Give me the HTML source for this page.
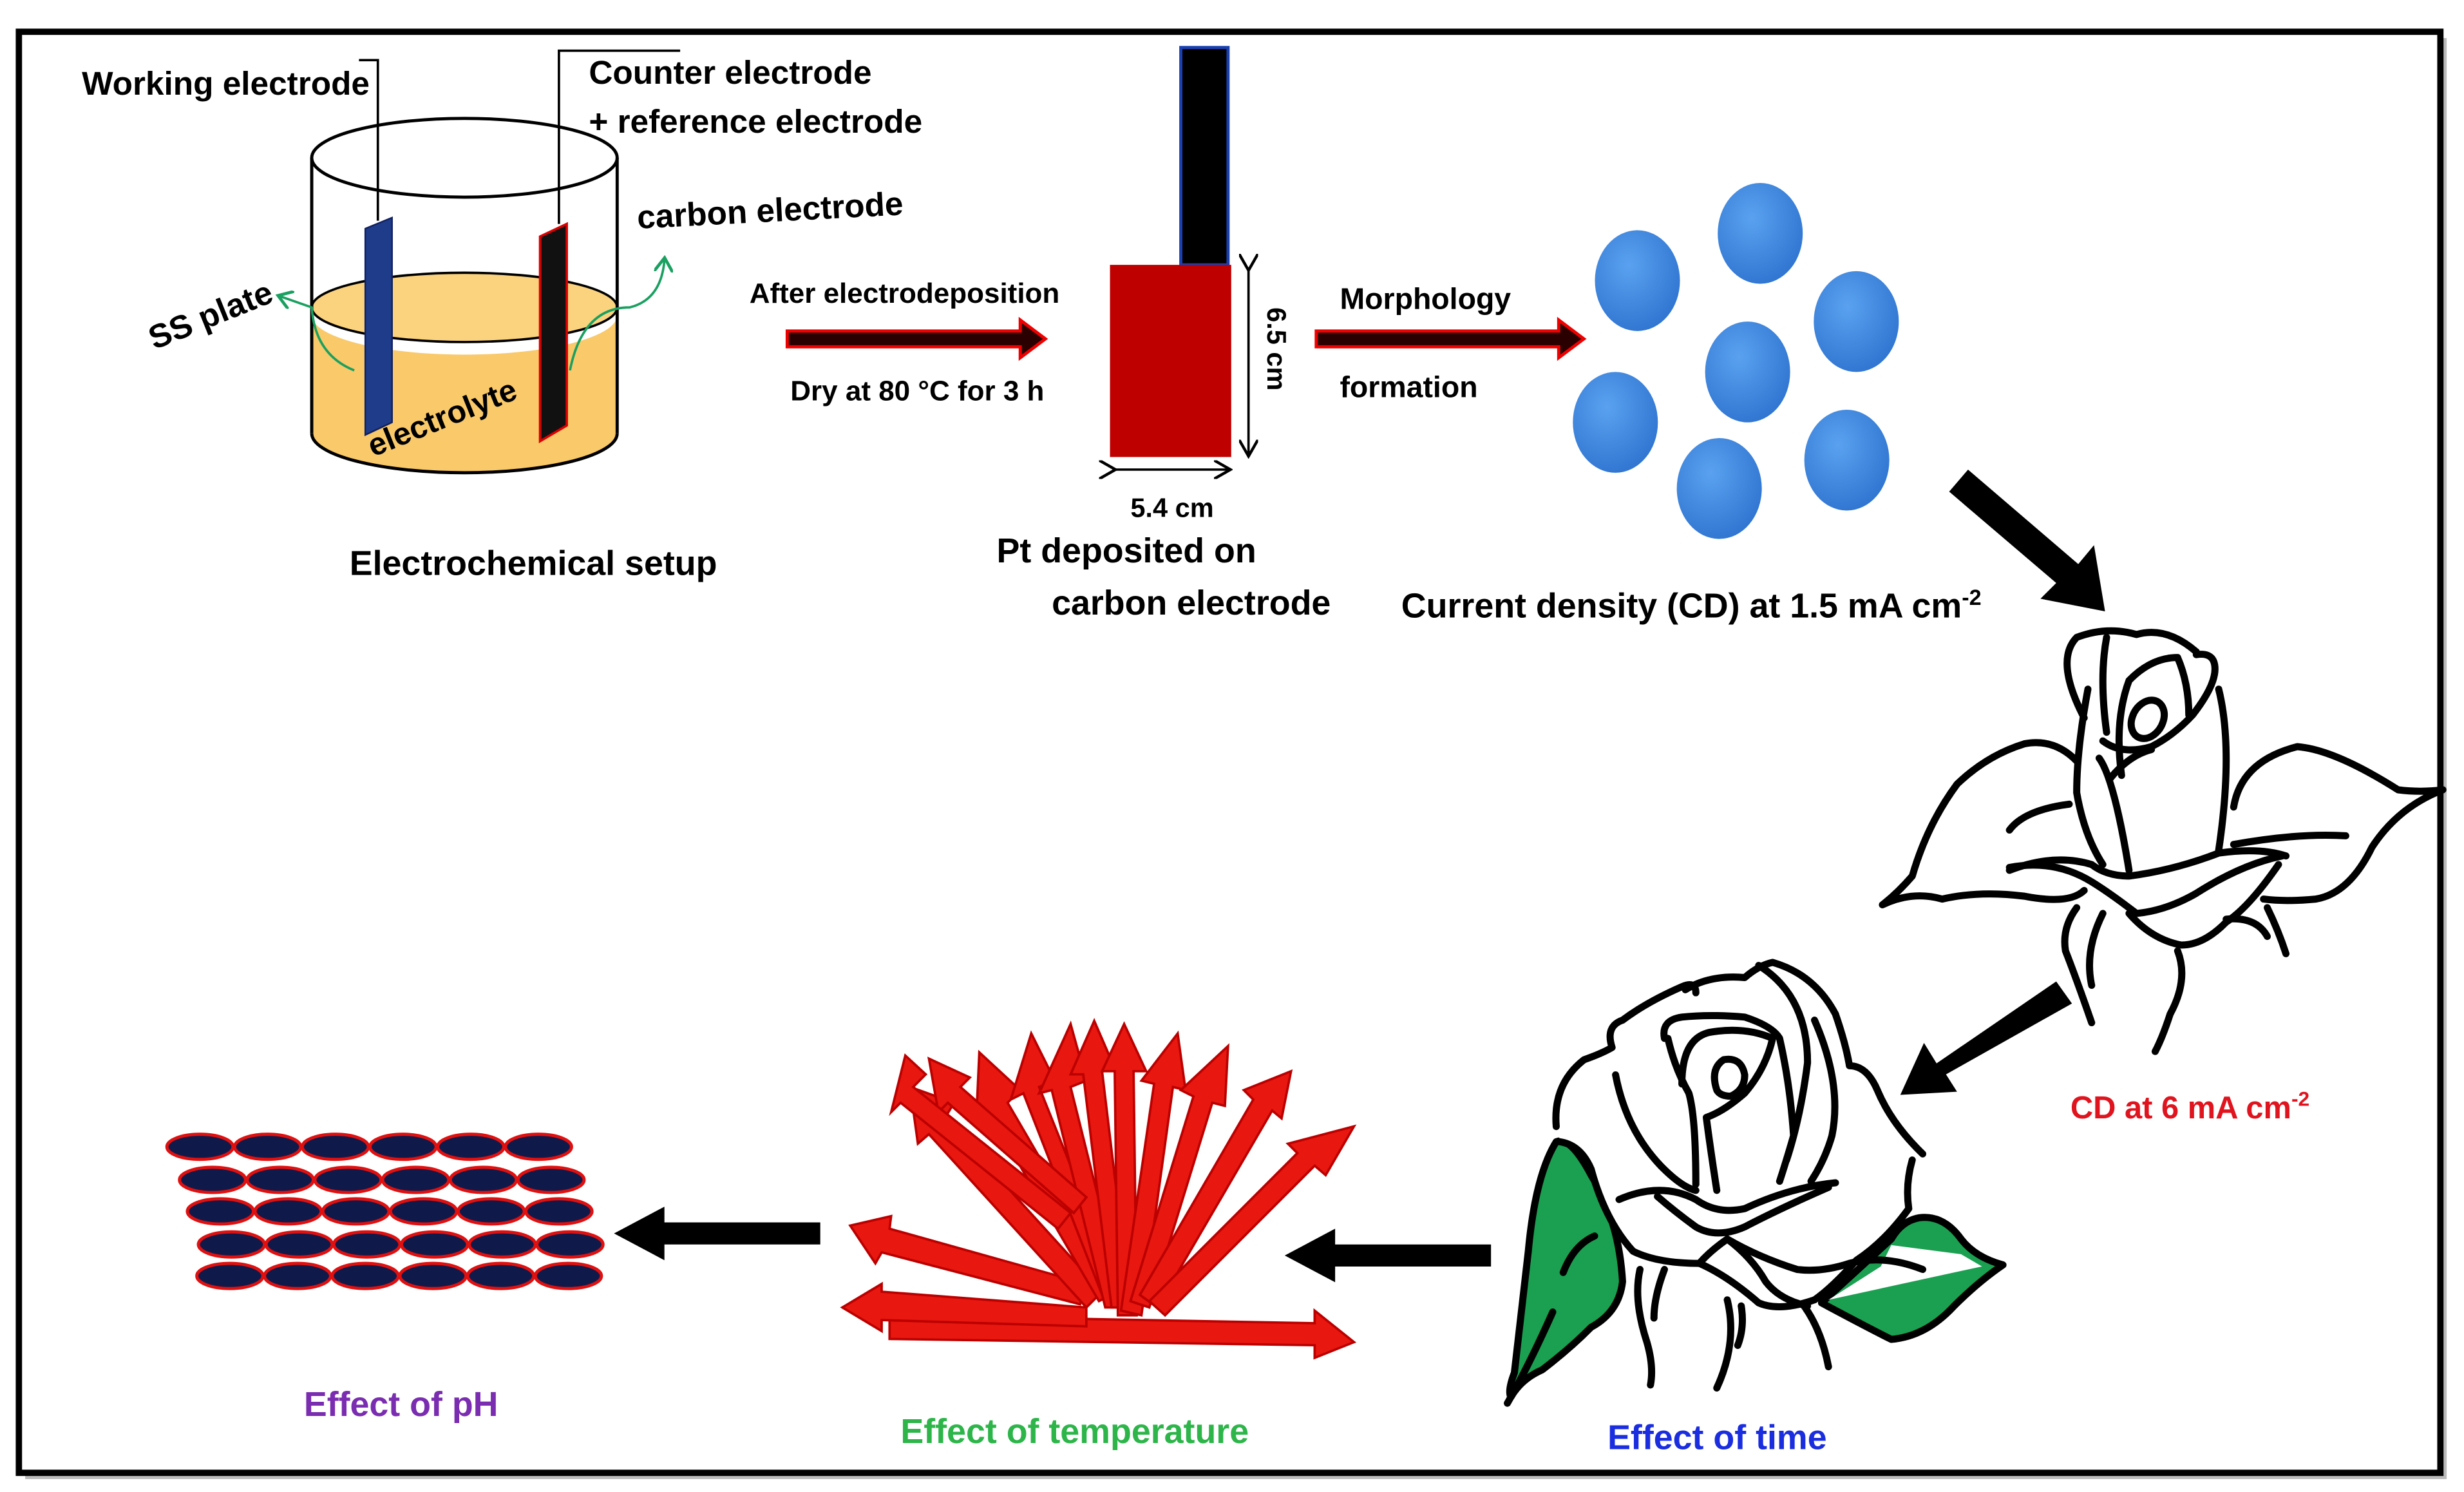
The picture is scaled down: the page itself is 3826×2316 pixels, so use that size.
<!DOCTYPE html>
<html><head><meta charset="utf-8"><style>html,body{margin:0;padding:0;background:#fff}svg{display:block}text{font-family:"Liberation Sans",sans-serif;font-weight:bold}.r path,.r ellipse,.r polygon{vector-effect:non-scaling-stroke}</style></head>
<body>
<svg width="3826" height="2316" viewBox="0 0 1565 947" xmlns="http://www.w3.org/2000/svg">
<defs>
<marker id="ah" markerWidth="8" markerHeight="8" refX="6" refY="4" orient="auto"><path d="M0,0 L7,4 L0,8" fill="none" stroke="#000" stroke-width="1.2"/></marker>
<marker id="ga" markerWidth="8" markerHeight="8" refX="5" refY="4" orient="auto"><path d="M0,0 L6,4 L0,8" fill="none" stroke="#1aa060" stroke-width="1.3"/></marker>
<radialGradient id="bg" cx="0.4" cy="0.35" r="0.7"><stop offset="0" stop-color="#5aa2f0"/><stop offset="1" stop-color="#2f74d0"/></radialGradient>
</defs>
<rect x="16" y="24" width="1538" height="915" fill="#bbb"/>
<rect x="12" y="20" width="1538" height="915" fill="#fff" stroke="#000" stroke-width="4"/>

<path d="M198,200 L198,275 A97,25 0 0 0 392,275 L392,200 A97,25 0 0 1 198,200Z" fill="#f9c96a"/>
<ellipse cx="295" cy="195" rx="97" ry="22" fill="#fbd37e" stroke="#000" stroke-width="1.5"/>
<ellipse cx="295" cy="100" rx="97" ry="25" fill="none" stroke="#000" stroke-width="2"/>
<line x1="198" y1="100" x2="198" y2="275" stroke="#000" stroke-width="2"/>
<line x1="392" y1="100" x2="392" y2="275" stroke="#000" stroke-width="2"/>
<path d="M198,275 A97,25 0 0 0 392,275" fill="none" stroke="#000" stroke-width="2"/>
<polygon points="232,145 249,138 249,268 232,276" fill="#1f3c8a" stroke="#102060"/>
<polygon points="343,150 360,142 360,270 343,280" fill="#111" stroke="#d00" stroke-width="1.5"/>
<polyline points="240,140 240,38 228,38" fill="none" stroke="#000" stroke-width="1.5"/>
<polyline points="355,142 355,32 432,32" fill="none" stroke="#000" stroke-width="1.5"/>
<path d="M225,235 Q200,225 198,195 L178,188" fill="none" stroke="#1aa060" stroke-width="1.5" marker-end="url(#ga)"/>
<path d="M362,235 Q370,195 400,195 Q420,190 422,165" fill="none" stroke="#1aa060" stroke-width="1.5" marker-end="url(#ga)"/>
<text x="52" y="60" font-size="21">Working electrode</text>
<text x="374" y="53" font-size="21">Counter electrode</text>
<text x="374" y="84" font-size="21">+ reference electrode</text>
<text x="405" y="145" font-size="21" transform="rotate(-3 405 145)">carbon electrode</text>
<text x="98" y="222" font-size="21" transform="rotate(-22 98 222)">SS plate</text>
<text x="237" y="290" font-size="20" transform="rotate(-22 237 290)">electrolyte</text>
<text x="222" y="365" font-size="22">Electrochemical setup</text>

<polygon points="500,210 648,210 648,203 664,215 648,227 648,220 500,220" fill="#2a0000" stroke="#e00" stroke-width="2"/>
<text x="476" y="192" font-size="18">After electrodeposition</text>
<text x="502" y="254" font-size="18">Dry at 80 °C for 3 h</text>

<rect x="750" y="30" width="30" height="138" fill="#000" stroke="#1a3fb0" stroke-width="2"/>
<rect x="705" y="168" width="77" height="122" fill="#bf0000"/>
<line x1="793" y1="170" x2="793" y2="288" stroke="#000" stroke-width="1.5" marker-end="url(#ah)" marker-start="url(#ah)"/>
<line x1="707" y1="298" x2="780" y2="298" stroke="#000" stroke-width="1.5" marker-end="url(#ah)" marker-start="url(#ah)"/>
<text x="805" y="195" font-size="17" transform="rotate(90 805 195)">6.5  cm</text>
<text x="718" y="328" font-size="17">5.4 cm</text>
<text x="633" y="357" font-size="22">Pt deposited on</text>
<text x="668" y="390" font-size="22">carbon electrode</text>

<polygon points="836,210 990,210 990,203 1006,215 990,227 990,220 836,220" fill="#2a0000" stroke="#e00" stroke-width="2"/>
<text x="851" y="196" font-size="19">Morphology</text>
<text x="851" y="252" font-size="19">formation</text>

<g fill="url(#bg)">
<ellipse cx="1040" cy="178" rx="27" ry="32"/><ellipse cx="1118" cy="148" rx="27" ry="32"/>
<ellipse cx="1179" cy="204" rx="27" ry="32"/><ellipse cx="1110" cy="236" rx="27" ry="32"/>
<ellipse cx="1026" cy="268" rx="27" ry="32"/><ellipse cx="1092" cy="310" rx="27" ry="32"/>
<ellipse cx="1173" cy="292" rx="27" ry="32"/></g>
<text x="890" y="392" font-size="22">Current density  (CD) at 1.5 mA cm<tspan dy="-8" font-size="14">-2</tspan></text>

<polygon points="1238,312 1250,298 1320,358 1330,346 1337,388 1296,380 1306,370" fill="#000"/>

<!-- rose 1 -->
<g class="r" transform="scale(0.409) translate(2900,940) scale(0.5803,0.4464)" fill="none" stroke="#000" stroke-width="11" stroke-linecap="round" stroke-linejoin="round">
<path d="M560,540 Q500,460 420,480 Q320,520 240,620 Q160,760 120,940 Q80,1000 40,1040 Q120,990 200,1020 Q300,990 420,1010 Q540,1040 580,990"/>
<path d="M380,780 Q420,710 540,690"/>
<path d="M980,700 Q1000,540 1150,490 Q1250,500 1420,640 Q1480,650 1540,640 Q1420,700 1350,840 Q1290,1000 1200,1020 Q1120,1030 1060,1020"/>
<path d="M980,830 Q1150,790 1280,800"/>
<path d="M580,390 Q500,190 560,110 Q640,70 720,100 Q800,70 880,160"/>
<path d="M880,170 Q930,160 930,220 Q930,280 870,380 Q820,450 760,490 Q680,520 630,470"/>
<path d="M640,110 Q620,250 640,440"/>
<path d="M680,590 Q660,400 700,260 Q760,180 830,180 Q860,270 860,380"/>
<ellipse cx="750" cy="395" rx="42" ry="68" transform="rotate(15 750 395)"/>
<path d="M940,290 Q980,500 940,850"/>
<path d="M590,290 Q560,500 560,650 Q580,800 630,900"/>
<path d="M620,530 Q660,600 700,920"/>
<path d="M650,600 Q700,520 760,500"/>
<path d="M380,920 Q500,860 600,900 Q640,940 700,940 Q820,920 940,860 Q1050,840 1120,870"/>
<path d="M1110,870 Q1000,900 880,1000 Q800,1060 720,1070 Q650,1000 600,960 Q500,880 380,910"/>
<path d="M1100,900 Q1020,1050 960,1100 Q900,1180 840,1180 Q760,1160 700,1070"/>
<path d="M560,1050 Q520,1120 530,1200 Q560,1300 600,1450"/>
<path d="M630,1070 Q580,1200 600,1320"/>
<path d="M830,1200 Q860,1300 810,1420 Q790,1500 770,1550"/>
<path d="M1070,1050 Q1100,1130 1120,1210"/>
<path d="M960,1090 Q1040,1080 1070,1150"/>
</g>
<text x="1315" y="710" font-size="20" fill="#e0141e">CD at 6 mA cm<tspan dy="-8" font-size="13">-2</tspan></text>

<polygon points="1316,637 1306,623 1230,675 1222,662 1207,695 1243,693 1236,682" fill="#000"/>

<!-- rose 2 -->
<g class="r" transform="scale(0.409) translate(2330,1470) scale(0.542,0.472)" fill="none" stroke="#000" stroke-width="11" stroke-linecap="round" stroke-linejoin="round">
<path d="M160,640 Q100,750 80,1000 Q60,1200 40,1400 Q20,1460 30,1480 Q60,1420 120,1390 Q200,1320 260,1250 Q340,1200 350,1100 Q340,900 260,750 Q200,620 160,640Z" fill="#1aa050"/>
<path d="M920,1170 Q1050,1250 1120,1290 Q1220,1280 1300,1180 Q1370,1100 1440,1045 Q1360,1020 1320,960 Q1270,880 1200,890 Q1150,900 1120,960Z" fill="#1aa050"/>
<polygon points="1120,980 1320,1010 1380,1050 940,1160 1090,1050" fill="#fff" stroke="none"/>
<path d="M170,640 Q150,450 240,370 Q290,350 320,330 Q300,260 350,240 Q420,180 520,130 Q600,90 700,100 Q740,60 780,50 Q900,90 960,220 Q990,320 1000,390 Q1050,390 1080,470 Q1120,580 1210,680 Q1160,780 1170,860 Q1100,970 1020,1030 Q950,1120 900,1160 Q800,1200 740,1170 Q650,1080 570,1040 Q450,1040 380,1000 Q300,900 260,730 Q230,650 170,640Z" fill="#fff" stroke="none"/>
<path d="M160,590 Q150,450 240,370 Q290,350 320,330 Q300,260 350,240 Q420,180 520,130 Q560,110 560,150"/>
<path d="M530,140 Q600,90 700,100 Q740,60 780,50 Q900,90 960,220 Q990,320 1000,390 Q1050,390 1080,470 Q1120,580 1210,680"/>
<path d="M1180,700 Q1160,780 1170,860 Q1100,970 1020,1030 Q950,1120 900,1160 Q800,1200 740,1170 Q650,1080 570,1040 Q450,1040 380,1000 Q300,900 260,730 Q230,650 170,640"/>
<path d="M180,1070 Q210,980 270,950"/>
<path d="M340,830 Q460,770 560,830 Q620,880 700,860 Q830,790 960,775"/>
<path d="M940,790 Q800,860 700,920 Q620,960 560,920 Q500,870 450,820"/>
<path d="M1210,1060 Q1100,1010 1000,1040 Q920,1070 850,1060 Q740,1020 650,960 Q600,1000 570,1040"/>
<path d="M650,960 Q720,1020 760,1100 Q800,1160 880,1180"/>
<path d="M470,300 Q460,240 520,230 Q600,220 700,230 Q780,260 800,300 Q830,450 840,620 Q820,700 800,770"/>
<path d="M480,300 Q500,400 540,480 Q560,560 560,780"/>
<path d="M330,420 Q360,600 460,720 Q520,790 560,800"/>
<path d="M520,450 Q520,300 600,280 Q700,260 780,300 Q760,400 700,480 Q640,540 590,560 Q600,650 620,800"/>
<path d="M620,470 Q600,400 640,370 Q690,360 700,420 Q700,470 660,490 Q630,490 620,470Z"/>
<path d="M900,240 Q980,450 950,620 Q930,700 890,770"/>
<path d="M740,60 Q880,160 880,380 Q860,560 820,700"/>
<path d="M400,1060 Q380,1160 420,1300 Q440,1380 430,1440"/>
<path d="M470,1060 Q440,1150 440,1220"/>
<path d="M650,1160 Q680,1300 620,1450"/>
<path d="M690,1180 Q700,1250 680,1310"/>
<path d="M870,1180 Q920,1260 940,1380"/>
<path d="M150,1200 Q80,1380 20,1500"/>
</g>
<text x="1021" y="920" font-size="22" fill="#1a2ee0">Effect of time</text>

<polygon points="947,790 848,790 848,780 816,797 848,814 848,804 947,804" fill="#000"/>
<polygon points="521,776 422,776 422,766 390,783 422,800 422,790 521,790" fill="#000"/>

<g fill="#e8170f" stroke="#b00" stroke-width="1.5">
<polygon points="565,835 835,840 835,832 860,852 835,862 835,854 565,850"/>
<polygon points="560,820 690,830 690,842 560,838 560,845 535,830 560,815"/>
<polygon points="565,780 690,815 686,828 560,795 556,802 540,778 566,772"/>
<polygon points="600,710 700,820 690,830 590,720 583,726 578,690 606,700"/>
<polygon points="640,700 710,820 698,826 628,706 620,712 622,668 648,692"/>
<polygon points="660,690 712,820 700,822 650,694 642,698 655,656 670,686"/>
<polygon points="680,690 715,830 702,830 668,692 660,694 680,650 690,686"/>
<polygon points="700,680 718,830 706,830 688,682 680,682 695,648 708,678"/>
<polygon points="720,680 722,835 710,835 708,680 700,680 714,650 728,680"/>
<polygon points="745,690 725,835 712,832 733,688 725,686 748,656 753,692"/>
<polygon points="770,700 730,830 718,826 758,696 750,692 780,664 778,702"/>
<polygon points="808,705 735,830 724,822 796,698 790,692 820,680 814,710"/>
<polygon points="835,740 740,835 730,826 824,732 818,726 860,715 842,746"/>
<polygon points="610,690 690,760 682,770 602,700 596,706 590,672 616,684"/>
<polygon points="580,690 680,770 672,780 572,700 566,706 575,670 588,682"/>
</g>
<text x="572" y="916" font-size="22" fill="#2db54a">Effect of temperature</text>

<g fill="#101a4a" stroke="#e01010" stroke-width="2">
<ellipse cx="127" cy="728" rx="21" ry="8"/><ellipse cx="170" cy="728" rx="21" ry="8"/><ellipse cx="213" cy="728" rx="21" ry="8"/><ellipse cx="256" cy="728" rx="21" ry="8"/><ellipse cx="299" cy="728" rx="21" ry="8"/><ellipse cx="342" cy="728" rx="21" ry="8"/>
<ellipse cx="135" cy="749" rx="21" ry="8"/><ellipse cx="178" cy="749" rx="21" ry="8"/><ellipse cx="221" cy="749" rx="21" ry="8"/><ellipse cx="264" cy="749" rx="21" ry="8"/><ellipse cx="307" cy="749" rx="21" ry="8"/><ellipse cx="350" cy="749" rx="21" ry="8"/>
<ellipse cx="140" cy="769" rx="21" ry="8"/><ellipse cx="183" cy="769" rx="21" ry="8"/><ellipse cx="226" cy="769" rx="21" ry="8"/><ellipse cx="269" cy="769" rx="21" ry="8"/><ellipse cx="312" cy="769" rx="21" ry="8"/><ellipse cx="355" cy="769" rx="21" ry="8"/>
<ellipse cx="147" cy="790" rx="21" ry="8"/><ellipse cx="190" cy="790" rx="21" ry="8"/><ellipse cx="233" cy="790" rx="21" ry="8"/><ellipse cx="276" cy="790" rx="21" ry="8"/><ellipse cx="319" cy="790" rx="21" ry="8"/><ellipse cx="362" cy="790" rx="21" ry="8"/>
<ellipse cx="146" cy="810" rx="21" ry="8"/><ellipse cx="189" cy="810" rx="21" ry="8"/><ellipse cx="232" cy="810" rx="21" ry="8"/><ellipse cx="275" cy="810" rx="21" ry="8"/><ellipse cx="318" cy="810" rx="21" ry="8"/><ellipse cx="361" cy="810" rx="21" ry="8"/>
</g>
<text x="193" y="899" font-size="22" fill="#7a2db0">Effect of pH</text>
</svg>
</body></html>
